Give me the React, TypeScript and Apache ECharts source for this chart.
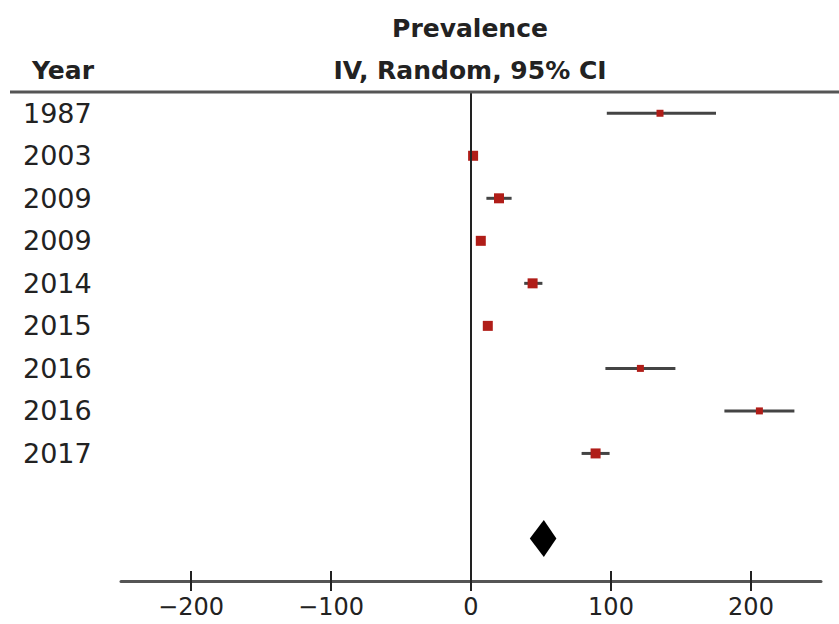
import React, { useEffect, useRef } from "react";
import * as echarts from "echarts";

const years = ["1987", "2003", "2009", "2009", "2014", "2015", "2016", "2016", "2017"];
const estimates = [135, 1.5, 20, 7, 44, 12, 121, 206, 89];
const lower = [97, 0, 11, 5, 38, 10, 96, 181, 79];
const upper = [175, 3, 29, 9, 51, 14, 146, 231, 99];
const markerSizes = [7, 10, 10, 10, 10, 10, 7, 7, 10];
const pooled = { est: 52, lo: 42, hi: 61 };
const tickValues = [-200, -100, 0, 100, 200];

const FONT = "DejaVu Sans";

export default function App() {
  const ref = useRef<HTMLDivElement>(null);
  useEffect(() => {
    if (!ref.current) return;
    const chart = echarts.init(ref.current, undefined, { renderer: "svg" });
    const rowIdx = years.map((_, i) => i);
    const pooledRow = years.length + 1;
    const axisRow = 11;
    chart.setOption({
      animation: false,
      backgroundColor: "#ffffff",
      grid: { left: 121, right: 18, top: 92, bottom: 43, containLabel: false },
      xAxis: {
        type: "value",
        min: -250,
        max: 250,
        position: "bottom",
        splitLine: { show: false },
        axisLine: { show: true, onZero: false, lineStyle: { color: "#555", width: 3 } },
        axisTick: { show: false },
        axisLabel: {
          show: true,
          customValues: tickValues,
          margin: 14,
          color: "#222",
          fontFamily: FONT,
          fontSize: 24,
          formatter: (v: number) => (v < 0 ? "\u2212" + Math.abs(v) : String(v)),
        },
      },
      yAxis: {
        type: "value",
        min: -0.5,
        max: 11,
        inverse: true,
        show: false,
        splitLine: { show: false },
      },
      graphic: [
        { type: "line", shape: { x1: 10, y1: 92, x2: 839, y2: 92 }, style: { stroke: "#555", lineWidth: 3 }, z: 10 },
        { type: "text", x: 470, y: 28, style: { text: "Prevalence", fontFamily: FONT, fontWeight: "bold", fontSize: 25, fill: "#222", align: "center", verticalAlign: "middle" } },
        { type: "text", x: 470, y: 70, style: { text: "IV, Random, 95% CI", fontFamily: FONT, fontWeight: "bold", fontSize: 25, fill: "#222", align: "center", verticalAlign: "middle" } },
        { type: "text", x: 32, y: 70, style: { text: "Year", fontFamily: FONT, fontWeight: "bold", fontSize: 25, fill: "#222", align: "left", verticalAlign: "middle" } },
      ],
      series: [
        {
          type: "custom",
          name: "ci",
          coordinateSystem: "cartesian2d",
          data: rowIdx.map((i) => [lower[i], upper[i], i]),
          renderItem: (params: any, api: any) => {
            const p1 = api.coord([api.value(0), api.value(2)]);
            const p2 = api.coord([api.value(1), api.value(2)]);
            return {
              type: "line",
              shape: { x1: p1[0], y1: p1[1], x2: p2[0], y2: p2[1] },
              style: { stroke: "#444", lineWidth: 3 },
            };
          },
          markLine: {
            symbol: "none",
            silent: true,
            label: { show: false },
            lineStyle: { color: "#222", width: 2, type: "solid" },
            data: [{ xAxis: 0 }],
          },
          z: 2,
        },
        {
          type: "custom",
          name: "ticks",
          coordinateSystem: "cartesian2d",
          clip: false,
          silent: true,
          data: tickValues.map((v) => [v, axisRow]),
          renderItem: (params: any, api: any) => {
            const p = api.coord([api.value(0), api.value(1)]);
            return {
              type: "line",
              shape: { x1: p[0], y1: p[1] - 10, x2: p[0], y2: p[1] + 10 },
              style: { stroke: "#222", lineWidth: 2 },
            };
          },
          z: 5,
        },
        {
          type: "scatter",
          name: "est",
          symbol: "rect",
          data: rowIdx.map((i) => [estimates[i], i]),
          symbolSize: (_: any, p: any) => markerSizes[p.dataIndex],
          itemStyle: { color: "#b01d18", opacity: 1 },
          z: 3,
        },
        {
          type: "custom",
          name: "pooled",
          coordinateSystem: "cartesian2d",
          data: [[pooled.lo, pooled.est, pooled.hi, pooledRow]],
          renderItem: (params: any, api: any) => {
            const r = api.value(3);
            const a = api.coord([api.value(0), r]);
            const b = api.coord([api.value(1), r - 0.435]);
            const c = api.coord([api.value(2), r]);
            const d = api.coord([api.value(1), r + 0.435]);
            return {
              type: "polygon",
              shape: { points: [a, b, c, d] },
              style: { fill: "#000" },
            };
          },
          z: 3,
        },
        {
          type: "scatter",
          name: "labels",
          symbolSize: 0,
          clip: false,
          itemStyle: { opacity: 1 },
          data: rowIdx.map((i) => [-250, i]),
          label: {
            show: true,
            position: [-98, 0],
            align: "left",
            verticalAlign: "middle",
            fontFamily: FONT,
            fontSize: 27,
            color: "#222",
            opacity: 1,
            formatter: (p: any) => years[p.dataIndex],
          },
          silent: true,
        },
      ],
    });
    return () => chart.dispose();
  }, []);
  return <div ref={ref} style={{ position: "fixed", left: 0, top: 0, width: 839, height: 624 }} />;
}
